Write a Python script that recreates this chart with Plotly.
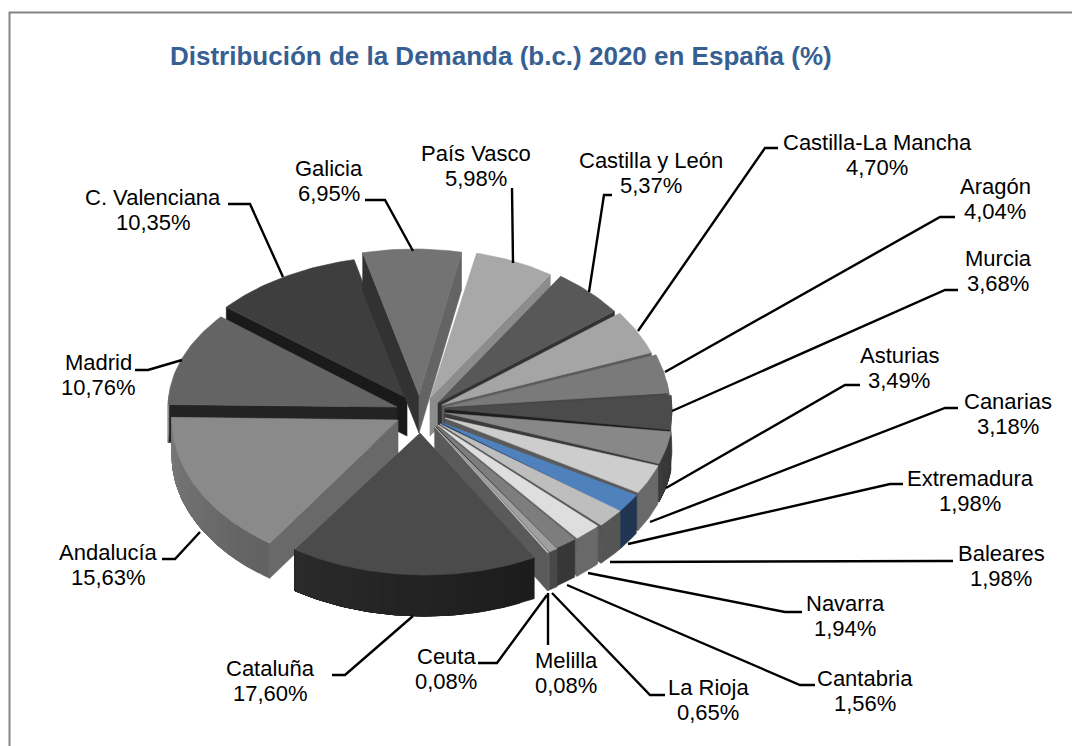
import math
import plotly.graph_objects as go

# ---------- data ----------
regions = ["Galicia", "País Vasco", "Castilla y León", "Castilla-La Mancha", "Aragón", "Murcia",
           "Asturias", "Canarias", "Extremadura", "Baleares", "Navarra", "Cantabria",
           "La Rioja", "Melilla", "Ceuta", "Cataluña", "Andalucía", "Madrid", "C. Valenciana"]
shares = [6.95, 5.98, 5.37, 4.70, 4.04, 3.68, 3.49, 3.18, 1.98, 1.98, 1.94, 1.56,
          0.65, 0.08, 0.08, 17.60, 15.63, 10.76, 10.35]
title_text = "Distribución de la Demanda (b.c.) 2020 en España (%)"

# ---------- styling / layout (explosion, projection, colours) ----------
start_angle = -13.0
depth = [38, 38, 38, 38, 38, 38, 38, 38, 38, 38, 38, 38, 38, 38, 38, 41, 35, 38, 38]
rim_cx = [414, 432, 439, 441, 443, 443, 443, 443, 443, 443, 443, 443, 443, 443, 443, 425, 399, 397, 407]
rim_cy = [395, 398, 403, 405, 408, 410, 412, 414, 414, 414, 414, 414, 414, 414, 414, 433, 420, 407, 398]
apex_x = [419, 430, 438, 442, 445, 445, 445, 445, 442, 440, 438, 436, 435, 435, 435, 420, 398, 397, 407]
apex_y = [395, 398, 403, 405, 407, 409, 413, 418, 423, 424, 425, 426, 427, 427, 427, 433, 420, 407, 398]
rim_rx = [228, 214, 220, 224, 227, 229, 230, 229, 227, 227, 222, 218, 218, 218, 218, 228, 227, 229, 235]
rim_ry = [146, 148, 152, 152, 154, 150, 150, 150, 155, 155, 156, 157, 158, 158, 158, 142, 150, 141, 142]
top_grey = [115, 168, 88, 165, 122, 75, 136, 205, None, 190, 222, 125, 160, 120, 200, 75, 138, 100, 62]
start_wall = [50, 100, 60, 90, 70, 50, 60, 90, None, 85, 100, 55, 70, 90, 90, 40, 105, 35, 26]
end_wall = [100, 140, 50, 90, 70, 30, 60, 90, None, 85, 100, 55, 70, 90, 90, 30, 105, 35, 26]
arc_left = [100, 120, 70, 110, 90, 60, 60, 105, None, 85, 105, 55, 72, 92, 95, 42, 122, 150, 50]
arc_right = [100, 120, 70, 110, 90, 60, 55, 105, None, 85, 105, 55, 72, 92, 95, 28, 97, 150, 50]
paint_order = [18] + list(range(15)) + [17, 16, 15]

blue_top = "#4f81bd"
blue_wall = "#1f3552"
title_color = "#376092"
frame_color = "#868686"
label_font = "Liberation Sans, Arial, sans-serif"
line_gap = 25

label_cx = [329, 476, 651, 877, 995, 998, 899, 1008, 970, 1001, 845, 865, 708, 566, 446, 270, 108, 98, 153]
label_cy = [181, 166, 173, 155, 199, 271, 368, 414, 491, 566, 616, 691, 700, 673, 669, 681, 565, 375, 210]
leaders = [
    [(365, 200), (385, 200), (413, 251)],
    [(512, 188), (513, 263)],
    [(612, 195), (604, 195), (589, 292)],
    [(778, 148), (765, 148), (638, 331)],
    [(955, 217), (940, 217), (665, 372)],
    [(958, 290), (945, 290), (672, 411)],
    [(860, 385), (845, 385), (666, 488)],
    [(958, 408), (945, 408), (650, 522)],
    [(903, 484), (890, 484), (628, 544)],
    [(953, 561), (940, 561), (610, 562)],
    [(802, 612), (785, 612), (588, 573)],
    [(815, 685), (800, 685), (567, 585)],
    [(665, 695), (650, 695), (552, 593)],
    [(548, 645), (548, 593)],
    [(478, 663), (497, 663), (547, 595)],
    [(332, 675), (345, 675), (413, 616)],
    [(162, 559), (175, 559), (200, 532)],
    [(135, 370), (148, 370), (182, 360)],
    [(228, 204), (250, 204), (283, 277)],
]


def grey(v):
    v = int(round(v))
    return f"rgb({v},{v},{v})"


def rim_point(i, deg):
    t = math.radians(deg)
    return rim_cx[i] + rim_rx[i] * math.sin(t), rim_cy[i] - rim_ry[i] * math.cos(t)


def arc_points(i, a0, a1, step=1.0):
    n = max(2, int(abs(a1 - a0) / step) + 1)
    return [rim_point(i, a0 + (a1 - a0) * k / (n - 1)) for k in range(n)]


fig = go.Figure()


def poly(points, color):
    xs = [p[0] for p in points] + [points[0][0]]
    ys = [p[1] for p in points] + [points[0][1]]
    fig.add_trace(go.Scatter(x=xs, y=ys, mode="lines", fill="toself", fillcolor=color,
                             line=dict(color=color, width=0.6), hoverinfo="skip", showlegend=False))


total = sum(shares)
bounds = [start_angle]
for s in shares:
    bounds.append(bounds[-1] + s / total * 360.0)

for i in paint_order:
    a0, a1 = bounds[i], bounds[i + 1]
    d = depth[i]
    is_blue = top_grey[i] is None
    apex = (apex_x[i], apex_y[i])
    p0, p1 = rim_point(i, a0), rim_point(i, a1)
    # cut faces
    if math.sin(math.radians(a0)) < 0:
        poly([apex, p0, (p0[0], p0[1] + d), (apex[0], apex[1] + d)],
             blue_wall if is_blue else grey(start_wall[i]))
    if math.sin(math.radians(a1)) > 0:
        poly([apex, p1, (p1[0], p1[1] + d), (apex[0], apex[1] + d)],
             blue_wall if is_blue else grey(end_wall[i]))
    # curved wall: overlapping bands give a soft shade without seams
    lo, hi = max(a0, 80), min(a1, 275)
    if hi > lo:
        bands = 16 if not is_blue and arc_left[i] != arc_right[i] else 1
        for b in range(bands):
            u0 = lo + (hi - lo) * b / bands
            f = (b + 0.5) / bands
            col = blue_wall if is_blue else grey(arc_right[i] + (arc_left[i] - arc_right[i]) * f)
            pts = arc_points(i, u0, hi)
            poly(pts + [(x, y + d) for x, y in reversed(pts)], col)
    # top face
    poly([apex] + arc_points(i, a0, a1), blue_top if is_blue else grey(top_grey[i]))

# leader lines
for pts in leaders:
    fig.add_trace(go.Scatter(x=[p[0] for p in pts], y=[p[1] for p in pts], mode="lines",
                             line=dict(color="#000000", width=2.4), hoverinfo="skip", showlegend=False))

# labels (one annotation per text line for the tighter leading)
for name, val, x, y in zip(regions, shares, label_cx, label_cy):
    txt = f"{val:.2f}".replace(".", ",") + "%"
    for line, yy in ((name, y - line_gap / 2), (txt, y + line_gap / 2)):
        fig.add_annotation(x=x, y=yy, xref="x", yref="y", text=line, showarrow=False,
                           xanchor="center", yanchor="middle",
                           font=dict(family=label_font, size=22, color="#000000"))

fig.add_annotation(x=501, y=56, xref="x", yref="y", text=f"<b>{title_text}</b>", showarrow=False,
                   xanchor="center", yanchor="middle",
                   font=dict(family=label_font, size=26, color=title_color))

# chart frame
fig.add_trace(go.Scatter(x=[9.5, 9.5, 1072], y=[746, 12.5, 12.5], mode="lines",
                         line=dict(color=frame_color, width=2), hoverinfo="skip", showlegend=False))

fig.update_layout(
    width=1072, height=746, margin=dict(l=0, r=0, t=0, b=0),
    paper_bgcolor="white", plot_bgcolor="white", showlegend=False,
    xaxis=dict(range=[0, 1072], visible=False, fixedrange=True),
    yaxis=dict(range=[746, 0], visible=False, fixedrange=True),
)
fig.write_html("out.html", config={"displayModeBar": False},
               post_script="document.body.style.margin='0';document.documentElement.style.overflow='hidden';")
